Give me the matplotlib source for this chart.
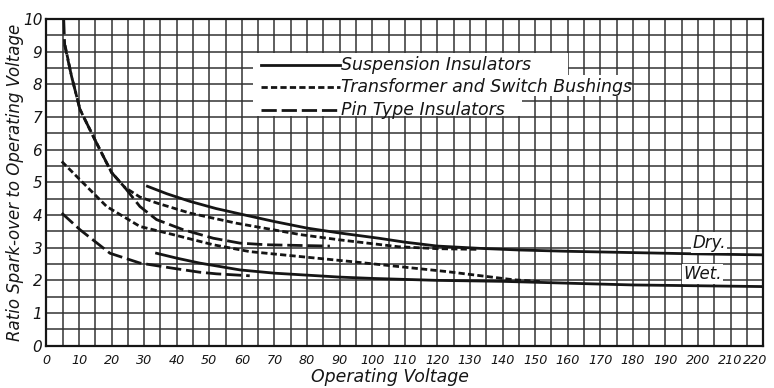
import matplotlib
matplotlib.use('Agg')
import matplotlib.pyplot as plt
from matplotlib.ticker import MultipleLocator
from matplotlib.patches import Rectangle

plt.rcParams['lines.scale_dashes'] = False

# Dry curves
susp_dry_x = [31, 37, 44, 52, 60, 70, 80, 90, 102, 110, 120, 133, 145, 160, 180, 200, 220]
susp_dry_y = [4.88, 4.65, 4.42, 4.2, 4.02, 3.8, 3.6, 3.45, 3.29, 3.17, 3.05, 2.98, 2.93, 2.89, 2.85, 2.81, 2.78]
trans_dry_x = [5.7, 7.7, 10.3, 15.4, 20, 24, 28.7, 33.8, 44, 58.3, 78, 90, 108, 120, 132]
trans_dry_y = [9.2, 8.25, 7.23, 6.2, 5.3, 4.85, 4.55, 4.37, 4.06, 3.75, 3.40, 3.24, 3.03, 2.97, 2.95]
pin_dry_x = [5.3, 5.6, 7.7, 10.3, 15.4, 20, 24, 28.7, 33.8, 42, 51.2, 59.4, 67.5, 77, 87]
pin_dry_y = [10.0, 9.2, 8.25, 7.23, 6.2, 5.3, 4.85, 4.26, 3.86, 3.55, 3.29, 3.14, 3.09, 3.07, 3.05]

# Wet curves
susp_wet_x = [33.8, 40, 47, 59.4, 70, 80, 90, 100, 120, 140, 165, 180, 220]
susp_wet_y = [2.83, 2.68, 2.53, 2.32, 2.22, 2.16, 2.1, 2.06, 2.0, 1.97, 1.9, 1.86, 1.81]
trans_wet_x = [4.7, 11.3, 18.5, 28.7, 38.9, 51.2, 62.4, 77.8, 93.1, 108.4, 122.8, 143.2, 152]
trans_wet_y = [5.64, 4.98, 4.26, 3.65, 3.40, 3.09, 2.88, 2.73, 2.58, 2.42, 2.27, 2.02, 1.96]
pin_wet_x = [4.7, 10.3, 19.5, 28.7, 38.9, 47, 52.2, 62.4]
pin_wet_y = [4.06, 3.55, 2.83, 2.53, 2.37, 2.25, 2.2, 2.14]

x_ticks = list(range(0, 221, 10))
x_ticklabels = [str(v) for v in x_ticks]
legend_labels = ['Suspension Insulators', 'Transformer and Switch Bushings', 'Pin Type Insulators']

SHORT = (0, (4.5, 2.3))
LONG = (0, (11, 3.5))
lw = 2.0
ink = '#151515'
fnt = dict(family='DejaVu Sans', style='italic', color=ink)

fig = plt.figure(figsize=(7.74, 3.88), dpi=100)
ax = fig.add_axes([0.060, 0.109, 0.926, 0.842])

ax.set_xlim(0, 220)
ax.set_ylim(0, 10)
# last label is placed by hand so it stays inside the picture
ax.set_xticks(x_ticks, x_ticklabels[:-1] + [''])
ax.xaxis.set_minor_locator(MultipleLocator(5))
ax.yaxis.set_major_locator(MultipleLocator(1))
ax.yaxis.set_minor_locator(MultipleLocator(0.5))
ax.grid(True, which='both', color='#333333', lw=1.1)
ax.set_axisbelow(True)
ax.tick_params(which='both', length=0)
ax.tick_params(axis='x', pad=6, labelsize=9.2, colors=ink)
ax.tick_params(axis='y', pad=3, labelsize=11, colors=ink)
for lab in ax.get_xticklabels() + ax.get_yticklabels():
    lab.set_fontstyle('italic')
ax.annotate(x_ticklabels[-1], xy=(x_ticks[-1], 0), xytext=(3, -6),
            textcoords='offset points', ha='right', va='top', fontsize=9.2,
            annotation_clip=False, **fnt)
for s in ax.spines.values():
    s.set_linewidth(1.6)
    s.set_color(ink)

ax.plot(susp_dry_x, susp_dry_y, color=ink, lw=lw)
ax.plot(trans_dry_x, trans_dry_y, color=ink, lw=lw, linestyle=SHORT)
ax.plot(pin_dry_x, pin_dry_y, color=ink, lw=lw, linestyle=LONG)
ax.plot(susp_wet_x, susp_wet_y, color=ink, lw=lw)
ax.plot(trans_wet_x, trans_wet_y, color=ink, lw=lw, linestyle=SHORT)
ax.plot(pin_wet_x, pin_wet_y, color=ink, lw=lw, linestyle=LONG)

# legend drawn by hand on white patches over the grid
rows = [(8.6, 8.3, 160), (7.92, 7.65, 178.5), (7.22, 7.03, 146)]
styles = ['-', SHORT, LONG]
for (yc, ylo, xr), ls, label in zip(rows, styles, legend_labels):
    top = ylo + 0.65 if ylo != 8.3 else 8.95
    ax.add_patch(Rectangle((63.5, ylo), xr - 63.5, top - ylo, facecolor='white',
                           edgecolor='none', zorder=2))
    ax.plot([66, 90], [yc, yc], color=ink, lw=lw, linestyle=ls, zorder=3)
    ax.text(90.5, yc, label, fontsize=12.5, va='center', ha='left', zorder=4, **fnt)

ax.text(203.5, 3.15, 'Dry.', fontsize=12, ha='center', va='center',
        bbox=dict(facecolor='white', edgecolor='none', pad=1), **fnt)
ax.text(201.5, 2.2, 'Wet.', fontsize=12, ha='center', va='center',
        bbox=dict(facecolor='white', edgecolor='none', pad=1), **fnt)

fig.text(0.504, 0.028, 'Operating Voltage', fontsize=12.5, ha='center', va='center', **fnt)
fig.text(0.020, 0.53, 'Ratio Spark-over to Operating Voltage', fontsize=12, rotation=90,
         ha='center', va='center', **fnt)

fig.savefig('out.png', dpi=100)
